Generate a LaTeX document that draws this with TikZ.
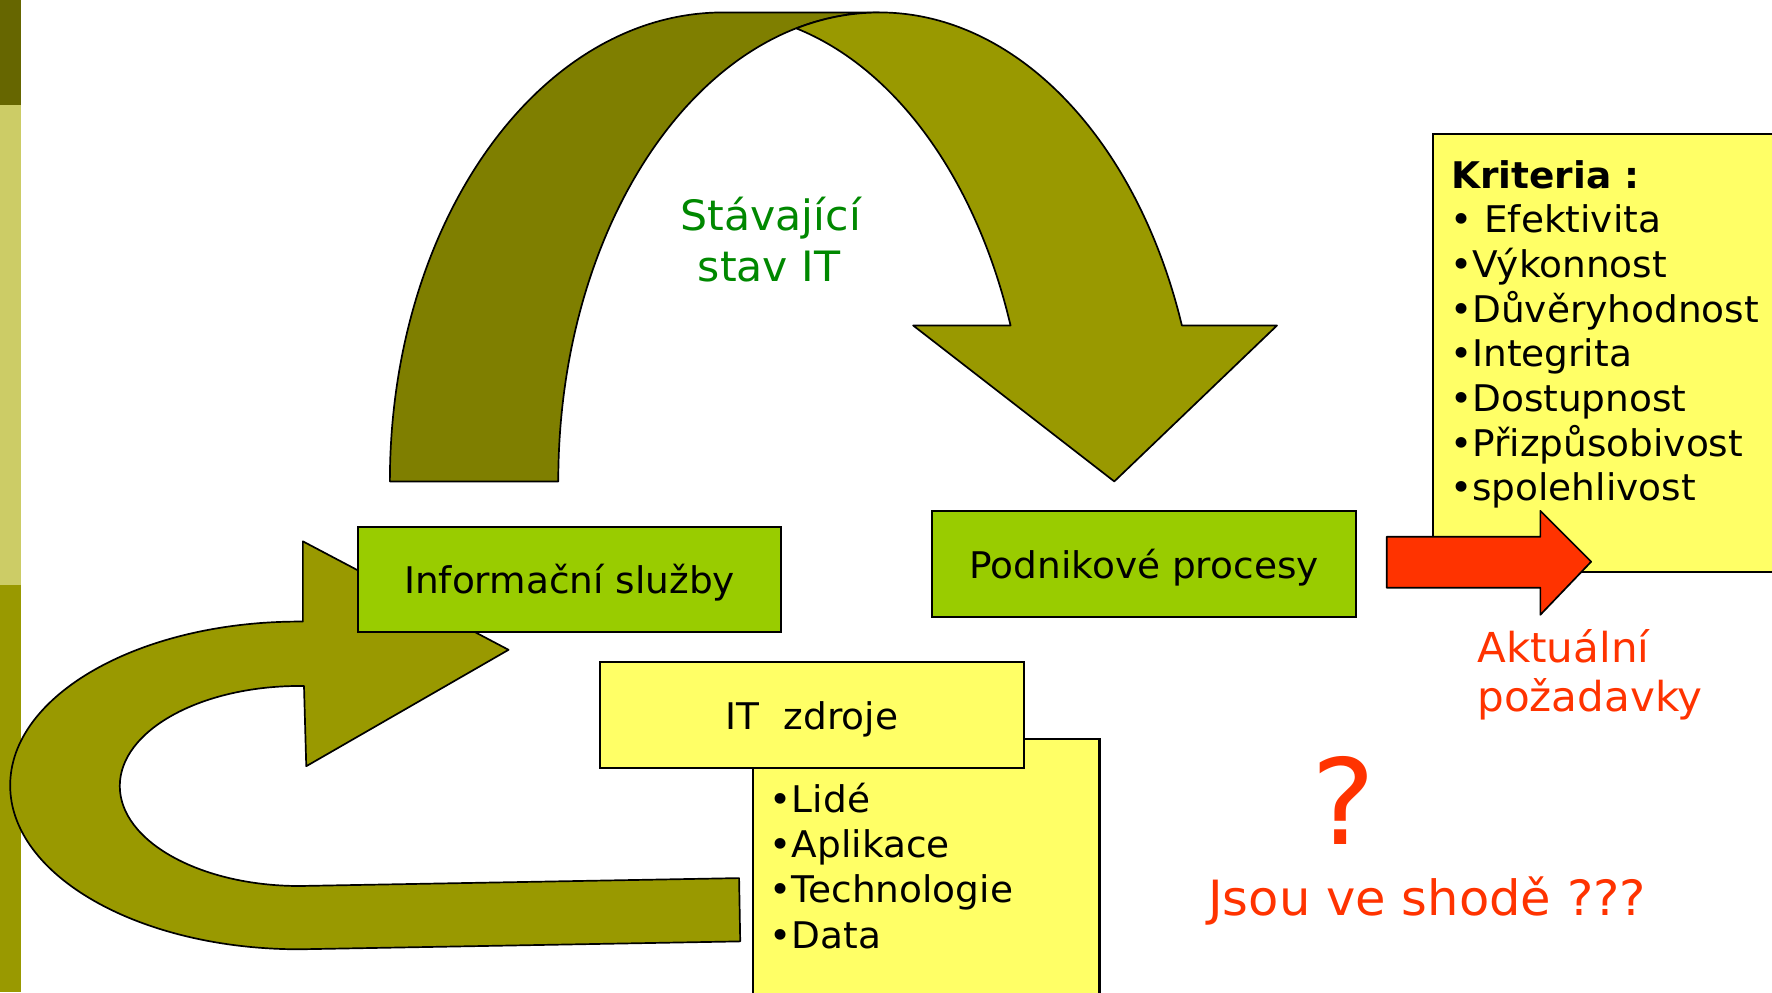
\documentclass[tikz,border=0pt]{standalone}
\usepackage{fontspec}
\setmainfont[FakeStretch=1.02]{DejaVu Sans}
\definecolor{bardark}{HTML}{666600}
\definecolor{barlight}{HTML}{CCCC66}
\definecolor{olive}{HTML}{999900}
\definecolor{olivedark}{HTML}{7F7F00}
\definecolor{boxgreen}{HTML}{99CC00}
\definecolor{boxyellow}{HTML}{FFFF66}
\definecolor{redtxt}{HTML}{FF3300}
\definecolor{greentxt}{HTML}{008800}
\tikzset{
  shapeline/.style={draw=black, line width=1.5pt, line join=round},
  gbox/.style={draw=black, line width=1.8pt, fill=boxgreen, inner sep=0pt, text height=25pt, text depth=0pt, font=\fontsize{32.5}{40}\selectfont},
  ybox/.style={draw=black, line width=1.8pt, fill=boxyellow, inner sep=0pt},
  ytext/.style={inner sep=0pt, anchor=base west, font=\fontsize{32.5}{40}\selectfont},
}
\begin{document}
\begin{tikzpicture}[x=1pt,y=-1pt]
\useasboundingbox (0,0) rectangle (1568,878);
\clip (0,0) rectangle (1568,878);
% side bar
\fill[bardark] (0,0) rectangle (18.6,92.5);
\fill[barlight] (0,92.5) rectangle (18.6,517.5);
\fill[olive] (0,517.5) rectangle (18.6,878);
% top arch (back band)
\path[shapeline, fill=olivedark] (345,426) arc[start angle=180, end angle=270, x radius=295, y radius=415]
  -- (778,11) arc[start angle=270, end angle=180, x radius=284, y radius=415] -- cycle;
% top arch (front band with head)
\path[shapeline, fill=olive] (778,11) arc[start angle=270, end angle=340.58, x radius=284, y radius=415]
  -- (1130,288) -- (986,426) -- (808,288) -- (894.2,288)
  arc[start angle=340.58, end angle=285, x radius=277, y radius=415]
  arc[start angle=255.05, end angle=270, x radius=284, y radius=415] -- cycle;
% U-turn arrow
\path[shapeline, fill=olive] (655,833) -- (265,840)
  arc[start angle=90, end angle=270, x radius=256, y radius=145]
  -- (268,550) -- (268,479) -- (450,575) -- (271,678) -- (269,607) -- (265,607)
  arc[start angle=270, end angle=90, x radius=159, y radius=88.5]
  -- (654,777) -- cycle;
% boxes
\node[gbox, minimum width=374pt, minimum height=93pt] (info) at (504,512.5) {Informační služby};
\node[gbox, minimum width=375pt, minimum height=94pt] (podnik) at (1012.5,499) {Podnikové procesy};
\node[ybox, minimum width=307pt, minimum height=260pt, anchor=north west] (listbox) at (665,653) {};
\node[ybox, minimum width=375pt, minimum height=94pt, text height=25pt, text depth=0pt, font=\fontsize{32.5}{40}\selectfont] (itz) at (718.5,633) {IT~ zdroje};
\node[ybox, minimum width=340pt, minimum height=387pt, anchor=north west] (krit) at (1267,118) {};
% red arrow
\path[shapeline, fill=redtxt] (1227,475) -- (1363,475) -- (1363,452) -- (1408,497) -- (1363,544) -- (1363,520) -- (1227,520) -- cycle;
% Kriteria text
\node[ytext] (k0) at (1284,166.6) {\textbf{Kriteria :}};
\node[ytext] (k1) at (1283,206) {• Efektivita};
\node[ytext] (k2) at (1283,245.5) {•Výkonnost};
\node[ytext] (k3) at (1283,285) {•Důvěryhodnost};
\node[ytext] (k4) at (1283,324.5) {•Integrita};
\node[ytext] (k5) at (1283,364) {•Dostupnost};
\node[ytext] (k6) at (1283,403.5) {•Přizpůsobivost};
\node[ytext] (k7) at (1283,443) {•spolehlivost};
% IT list
\node[ytext] (l1) at (681,719) {•Lidé};
\node[ytext] (l2) at (681,759) {•Aplikace};
\node[ytext] (l3) at (681,799) {•Technologie};
\node[ytext] (l4) at (681,839) {•Data};
% green label
\node[inner sep=0pt, anchor=base, text=greentxt, font=\fontsize{37}{45}\selectfont] (st1) at (682,204) {Stávající};
\node[inner sep=0pt, anchor=base, text=greentxt, font=\fontsize{37}{45}\selectfont] (st2) at (680.5,249.5) {stav IT};
% red labels
\node[inner sep=0pt, anchor=base west, text=redtxt, font=\fontsize{36.5}{44}\selectfont] (ak1) at (1307,586.4) {Aktuální};
\node[inner sep=0pt, anchor=base west, text=redtxt, font=\fontsize{36.5}{44}\selectfont] (ak2) at (1307,629.8) {požadavky};
\node[inner sep=0pt, anchor=base, text=redtxt, font=\fontsize{105}{120}\selectfont] (qm) at (1188.5,747) {?};
\node[inner sep=0pt, anchor=base west, text=redtxt, font=\fontsize{43}{52}\selectfont] (jsou) at (1069,810) {Jsou ve shodě ???};
\end{tikzpicture}
\end{document}
